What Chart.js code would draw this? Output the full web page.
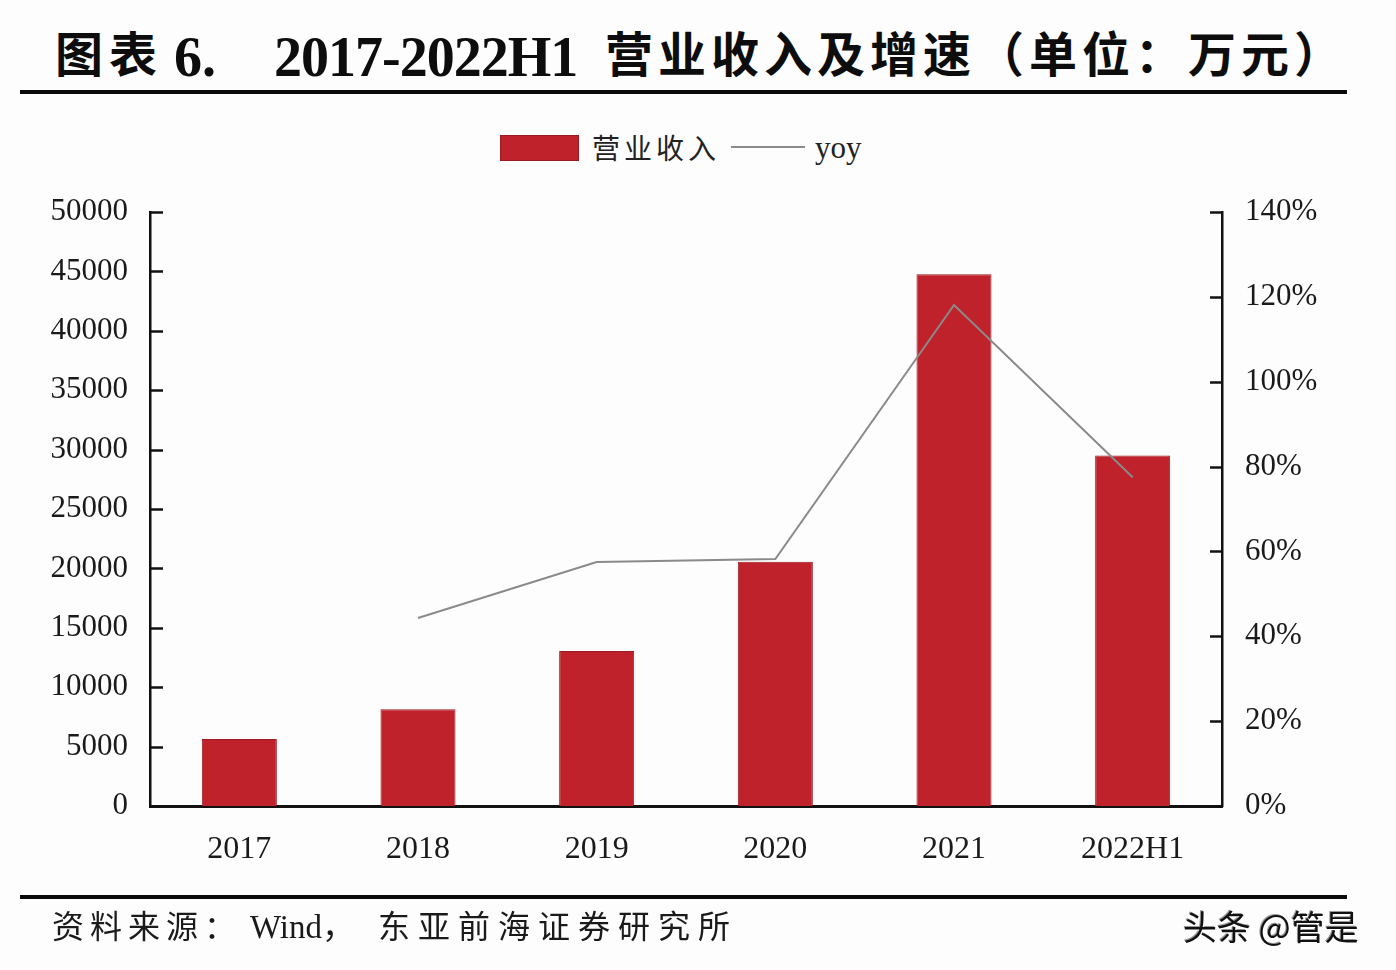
<!DOCTYPE html>
<html>
<head>
<meta charset="utf-8">
<script src="https://cdn.jsdelivr.net/npm/chart.js@4.4.1/dist/chart.umd.min.js"></script>
<style>
  html, body { margin:0; padding:0; background:#fdfdfd; }
  body { width:1396px; height:970px; position:relative; overflow:hidden; }
  .abs { position:absolute; white-space:nowrap; line-height:1; color:#0d0d0d; }
  .cjk { font-family:"Noto Sans CJK SC", sans-serif; }
  .serif { font-family:"Liberation Serif", "Noto Sans CJK SC", serif; }
  .rule { position:absolute; left:20px; width:1327px; height:4px; background:#0a0a0a; }
  #wrap { position:absolute; left:0; top:0; width:1396px; height:970px; }
</style>
</head>
<body>
<div class="abs cjk" style="left:55px; top:27px; font-size:48px; font-weight:700; letter-spacing:6px;">图表</div>
<div class="abs serif" style="left:174px; top:29px; font-size:56px; font-weight:700;">6.</div>
<div class="abs serif" style="left:274px; top:29px; font-size:56px; font-weight:700; letter-spacing:-1px;">2017-2022H1</div>
<div class="abs cjk" style="left:605px; top:27px; font-size:48px; font-weight:700; letter-spacing:5px;">营业收入及增速（单位：万元）</div>
<div class="rule" style="top:90px;"></div>

<div class="abs" style="left:500px; top:135px; width:77px; height:24px; background:#c0222b; border:1px solid #9a1b22;"></div>
<div class="abs cjk" style="left:592px; top:133px; font-size:28px; letter-spacing:4px; color:#222;">营业收入</div>
<div class="abs" style="left:731px; top:146px; width:74px; height:2px; background:#8a8a8a;"></div>
<div class="abs serif" style="left:815px; top:132px; font-size:31px; color:#222;">yoy</div>

<div id="wrap"><canvas id="c" width="1396" height="970"></canvas></div>

<div class="rule" style="top:895px;"></div>
<div class="abs serif" style="left:52px; top:911px; font-size:32px; letter-spacing:6px; color:#1a1a1a;">资料来源：</div>
<div class="abs serif" style="left:250px; top:911px; font-size:33px; color:#1a1a1a;">Wind，</div>
<div class="abs serif" style="left:378px; top:911px; font-size:32px; letter-spacing:8px; color:#1a1a1a;">东亚前海证券研究所</div>
<div class="abs cjk" style="left:1183px; top:909px; font-size:34px; color:#111; text-shadow:1px 1px 0 #fff, -1px -1px 0 #999;">头条 @管是</div>

<script>
const categories = ['2017', '2018', '2019', '2020', '2021', '2022H1'];
const revenue = [5650, 8150, 13050, 20550, 44750, 29500];
const yoy = [null, 44.3, 57.5, 58.2, 118.1, 77.5];
const leftMax = 50000, leftStep = 5000;
const rightMax = 140, rightStep = 20;

const inwardTicks = {
  id: 'inwardTicks',
  afterDraw(chart) {
    const ctx = chart.ctx, area = chart.chartArea;
    ctx.save();
    ctx.strokeStyle = '#111';
    ctx.lineWidth = 2.5;
    const yl = chart.scales.y, yr = chart.scales.y1;
    yl.ticks.forEach(t => {
      const p = Math.round(yl.getPixelForValue(t.value)) + 0.5;
      ctx.beginPath(); ctx.moveTo(area.left, p); ctx.lineTo(area.left + 13, p); ctx.stroke();
    });
    yr.ticks.forEach(t => {
      const p = Math.round(yr.getPixelForValue(t.value)) + 0.5;
      ctx.beginPath(); ctx.moveTo(area.right, p); ctx.lineTo(area.right - 12, p); ctx.stroke();
    });
    ctx.restore();
  }
};

const tickFont = { family: '"Liberation Serif", serif', size: 31 };

new Chart(document.getElementById('c'), {
  data: {
    labels: categories,
    datasets: [
      {
        type: 'line', label: 'yoy', data: yoy, yAxisID: 'y1', order: 0,
        borderColor: '#8a8a8a', borderWidth: 2, pointRadius: 0, tension: 0, spanGaps: false
      },
      {
        type: 'bar', label: '营业收入', data: revenue, yAxisID: 'y', order: 1,
        backgroundColor: '#c0222b', borderColor: '#9a1b22', borderWidth: 1,
        categoryPercentage: 1, barPercentage: 0.42
      }
    ]
  },
  options: {
    responsive: false,
    animation: false,
    layout: { padding: { top: 212, left: 0, right: 0, bottom: 0 } },
    plugins: { legend: { display: false }, tooltip: { enabled: false } },
    scales: {
      x: {
        grid: { display: false, drawTicks: false },
        border: { display: true, color: '#111', width: 3 },
        ticks: { font: { family: '"Liberation Serif", serif', size: 32 }, color: '#1a1a1a', padding: 24, maxRotation: 0 },
        afterFit(s) { s.height = 164; }
      },
      y: {
        position: 'left', min: 0, max: leftMax,
        grid: { display: false, drawTicks: false },
        border: { display: true, color: '#111', width: 2.5 },
        ticks: { stepSize: leftStep, font: tickFont, color: '#1a1a1a', padding: 22, callback: v => String(v) },
        afterFit(s) { s.width = 150; }
      },
      y1: {
        position: 'right', min: 0, max: rightMax,
        grid: { display: false, drawTicks: false },
        border: { display: true, color: '#111', width: 2.5 },
        ticks: { stepSize: rightStep, font: tickFont, color: '#1a1a1a', padding: 23, callback: v => v + '%' },
        afterFit(s) { s.width = 174; }
      }
    }
  },
  plugins: [inwardTicks]
});
</script>
</body>
</html>
